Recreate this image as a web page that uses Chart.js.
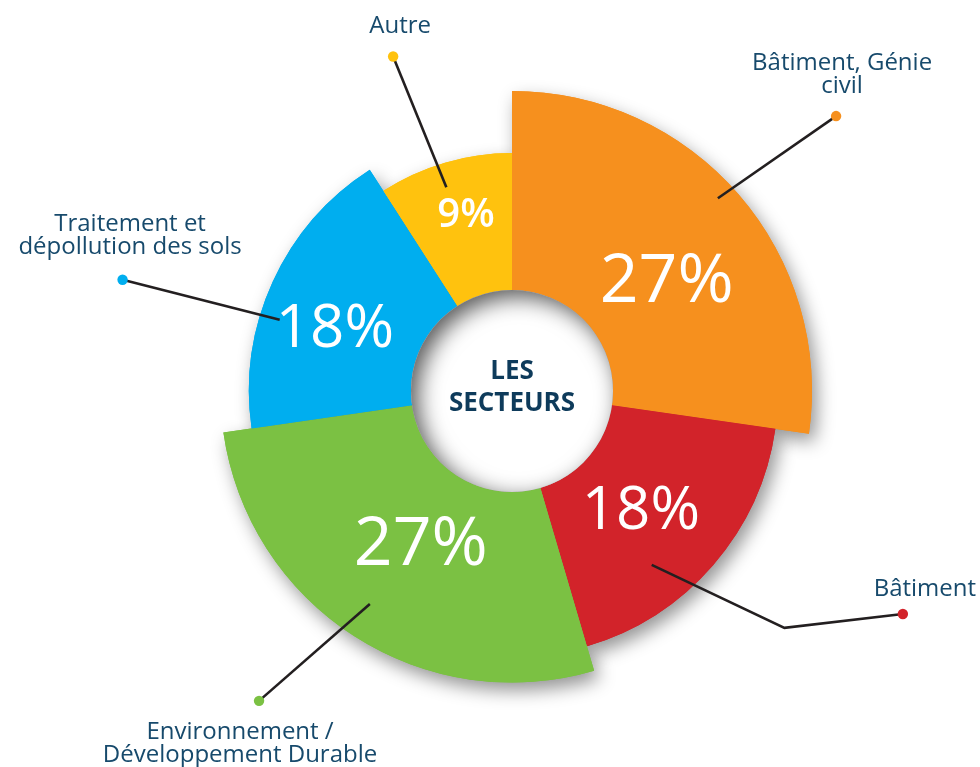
<!DOCTYPE html>
<html><head><meta charset="utf-8">
<script src="https://cdn.jsdelivr.net/npm/chart.js@4/dist/chart.umd.min.js"></script>
<style>html,body{margin:0;padding:0;background:#fff;}canvas{display:block;}</style>
</head><body>
<canvas id="c" width="980" height="767"></canvas>
<script>
// ---- data ----
const categories = ['Bâtiment, Génie civil', 'Bâtiment', 'Environnement / Développement Durable', 'Traitement et dépollution des sols', 'Autre'];
const labelLines = [['Bâtiment, Génie', 'civil'], ['Bâtiment'], ['Environnement /', 'Développement Durable'], ['Traitement et', 'dépollution des sols'], ['Autre']];
const shares = [27, 18, 27, 18, 9];
const percentLabels = ['27%', '18%', '27%', '18%', '9%'];
const centerTitle = ['LES', 'SECTEURS'];

// ---- styles ----
const colors = ['#f6901e', '#d2232a', '#7bc143', '#00aeef', '#ffc20e'];
const radiusFactors = [1, 0.887, 0.972, 0.877, 0.793];
const pctFont = [68, 60, 68, 60, 40];
const pctWeight = [500, 500, 500, 500, 600];
const pctPos = [[4.6, 192], [1.3, 174], [-1.3, 175], [-4.1, 189], [1.9, 184]];      // [deg offset from mid, radius]
const leaderInner = [[-2.2, 282], [10.3, 223], [1.0, 256], [-7.5, 243], [-1.5, 214]];
const leaderElbow = [null, [0.1, 361], null, null, null];
const dotPos = [[0.6, 425], [-11.2, 450], [6.5, 400], [-8.6, 405], [-3.2, 355]];
const textOffset = [[6, -46], [22, -18], [-19, 38], [7.5, -49], [7, -23]];

const TEXT = '#174a6c';
const FONT = '"Open Sans", "Noto Sans", sans-serif';

function polar(cx, cy, deg, r) {
  const t = deg * Math.PI / 180;
  return [cx + r * Math.sin(t), cy - r * Math.cos(t)];
}

const sectorRadius = {
  id: 'sectorRadius',
  afterDatasetsUpdate(chart) {
    const meta = chart.getDatasetMeta(0);
    const maxR = meta.controller.outerRadius;
    meta.data.forEach((arc, i) => { arc.outerRadius = maxR * radiusFactors[i]; });
  },
  beforeDatasetsDraw(chart) {
    const ctx = chart.ctx;
    const meta = chart.getDatasetMeta(0);
    ctx.save();
    ctx.shadowColor = 'rgba(0,0,0,0.42)';
    ctx.shadowBlur = 18;
    ctx.shadowOffsetX = 5;
    ctx.shadowOffsetY = 8;
    meta.data.forEach(a => a.draw(ctx));
    ctx.restore();
  },
  afterDatasetsDraw(chart) {
    const ctx = chart.ctx;
    const meta = chart.getDatasetMeta(0);
    const arc0 = meta.data[0];
    const cx = arc0.x, cy = arc0.y;
    const hole = meta.controller.innerRadius;

    // hole with inset shadow
    ctx.save();
    ctx.beginPath();
    ctx.arc(cx, cy, hole, 0, Math.PI * 2);
    ctx.clip();
    ctx.fillStyle = '#fff';
    ctx.fillRect(cx - hole, cy - hole, hole * 2, hole * 2);
    ctx.beginPath();
    ctx.rect(cx - hole - 200, cy - hole - 200, hole * 2 + 400, hole * 2 + 400);
    ctx.arc(cx, cy, hole, 0, Math.PI * 2, true);
    ctx.shadowColor = 'rgba(0,0,0,0.65)';
    ctx.shadowBlur = 22;
    ctx.shadowOffsetX = 7;
    ctx.shadowOffsetY = 7;
    ctx.fillStyle = '#888';
    ctx.fill('evenodd');
    ctx.restore();

    // center title
    ctx.save();
    ctx.fillStyle = '#0e3b5b';
    ctx.font = 'bold 26px ' + FONT;
    ctx.textAlign = 'center';
    ctx.textBaseline = 'alphabetic';
    ctx.fillText(centerTitle[0], cx, cy - 12);
    ctx.fillText(centerTitle[1], cx, cy + 20);
    ctx.restore();

    meta.data.forEach((arc, i) => {
      const sa = (arc.startAngle + Math.PI / 2) * 180 / Math.PI;
      const ea = (arc.endAngle + Math.PI / 2) * 180 / Math.PI;
      const mid = (sa + ea) / 2;

      // percentages
      ctx.save();
      const [px, py] = polar(cx, cy, mid + pctPos[i][0], pctPos[i][1]);
      ctx.fillStyle = '#fff';
      ctx.font = pctWeight[i] + ' ' + pctFont[i] + 'px ' + FONT;
      ctx.textAlign = 'center';
      ctx.textBaseline = 'alphabetic';
      ctx.fillText(percentLabels[i], px, py + pctFont[i] * 0.36);
      ctx.restore();

      // leader line
      const p0 = polar(cx, cy, mid + leaderInner[i][0], leaderInner[i][1]);
      const d = polar(cx, cy, mid + dotPos[i][0], dotPos[i][1]);
      ctx.save();
      ctx.strokeStyle = '#231f20';
      ctx.lineWidth = 2.6;
      ctx.beginPath();
      ctx.moveTo(p0[0], p0[1]);
      if (leaderElbow[i]) {
        const e = polar(cx, cy, mid + leaderElbow[i][0], leaderElbow[i][1]);
        ctx.lineTo(e[0], e[1]);
      }
      ctx.lineTo(d[0], d[1]);
      ctx.stroke();
      // dot
      ctx.fillStyle = colors[i];
      ctx.beginPath();
      ctx.arc(d[0], d[1], 5.2, 0, Math.PI * 2);
      ctx.fill();
      // label text
      ctx.fillStyle = TEXT;
      ctx.font = '24px ' + FONT;
      ctx.textAlign = 'center';
      ctx.textBaseline = 'alphabetic';
      labelLines[i].forEach((ln, k) => {
        ctx.fillText(ln, d[0] + textOffset[i][0], d[1] + textOffset[i][1] + k * 23);
      });
      ctx.restore();
    });
  }
};

new Chart(document.getElementById('c'), {
  type: 'doughnut',
  data: {
    labels: categories,
    datasets: [{
      data: shares,
      backgroundColor: colors,
      borderWidth: 0,
      hoverOffset: 0
    }]
  },
  options: {
    responsive: false,
    animation: false,
    events: [],
    cutout: 101,
    rotation: 0,
    layout: { padding: { left: 212, right: 168, top: 91, bottom: 76 } },
    plugins: {
      legend: { display: false },
      tooltip: { enabled: false }
    }
  },
  plugins: [sectorRadius]
});
</script>
</body></html>
